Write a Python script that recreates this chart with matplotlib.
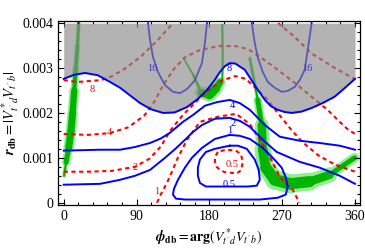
import numpy as np
import matplotlib.pyplot as plt
from matplotlib.collections import LineCollection
from matplotlib.ticker import MultipleLocator

plt.rcParams['font.family'] = ['Liberation Serif', 'DejaVu Serif']
plt.rcParams['mathtext.fontset'] = 'stix'

# phi in degrees, r in units of 1e-3

# blue solid contours
blue8_phi = [0, 13, 26.5, 42, 57.3, 69.7, 82, 94.3, 108, 122.7, 137, 152.3, 165, 177, 186, 193, 199, 205.2, 212, 223.8, 236, 248.5, 256, 264.5, 273, 281.8, 294, 306.4, 320, 334.7, 347, 360]
blue8_r = [2.76, 2.85, 2.89, 2.84, 2.69, 2.56, 2.39, 2.22, 2.08, 2.00, 2.01, 2.13, 2.30, 2.51, 2.72, 2.91, 3.04, 3.11, 3.10, 2.96, 2.62, 2.29, 2.15, 2.07, 2.02, 2.00, 2.03, 2.11, 2.22, 2.36, 2.55, 2.76]

blue16a_phi = [104.2, 106.7, 110.4, 116.5, 125.2, 135, 143.7, 152.3, 162.2, 170.8, 174.5, 177]
blue16a_r = [4.0, 3.62, 3.24, 2.91, 2.62, 2.47, 2.44, 2.53, 2.73, 3.11, 3.56, 4.0]
blue16b_phi = [232.4, 236.1, 239.8, 246, 252.2, 260.8, 269.4, 276.8, 285.5, 291.6, 297.8, 301.5, 306.4]
blue16b_r = [4.0, 3.56, 3.24, 2.91, 2.69, 2.56, 2.47, 2.49, 2.58, 2.73, 2.96, 3.40, 4.0]

blue4_phi = [0, 45, 69.7, 88, 106.7, 120, 131.5, 147.3, 160.2, 174.5, 189.3, 205.2, 217.5, 230, 248.5, 267, 291.6, 316.3, 341, 360]
blue4_r = [1.16, 1.18, 1.18, 1.24, 1.33, 1.43, 1.56, 1.80, 1.96, 2.16, 2.24, 2.29, 2.22, 2.07, 1.73, 1.47, 1.38, 1.33, 1.27, 1.18]

blue2_phi = [0, 45, 69.7, 88.2, 106.7, 125.2, 138, 149.8, 160, 170.8, 186.8, 205.2, 218, 230, 248.5, 263.3, 291.6, 316.3, 341, 360]
blue2_r = [0.40, 0.42, 0.51, 0.60, 0.73, 1.00, 1.20, 1.40, 1.58, 1.73, 1.87, 1.89, 1.82, 1.69, 1.36, 1.13, 0.91, 0.78, 0.60, 0.42]

blue1_phi = [205.2, 186.8, 170.8, 158.4, 149.8, 141.2, 136.3, 135, 138.7, 149.8, 180.6, 211.5, 242.3, 264.5, 274.4, 276.8, 274.4, 269.4, 258.3, 246, 230, 217.6, 205.2]
blue1_r = [1.51, 1.42, 1.22, 1.00, 0.78, 0.51, 0.31, 0.18, 0.09, 0.07, 0.07, 0.07, 0.07, 0.11, 0.18, 0.36, 0.56, 0.78, 1.00, 1.22, 1.42, 1.49, 1.51]

blue05_phi = [205.2, 186.8, 175.7, 168.3, 165.8, 165.8, 168.3, 175.7, 186.8, 205.2, 227.5, 238.6, 242.3, 241, 236.1, 226.3, 215.2, 205.2]
blue05_r = [1.27, 1.20, 1.13, 0.96, 0.78, 0.60, 0.44, 0.36, 0.36, 0.36, 0.36, 0.38, 0.51, 0.73, 0.96, 1.20, 1.27, 1.27]

# red dashed contours
red05_phi = [190.5, 187, 186.8, 189, 193, 199, 205.2, 213.9, 219, 221.3, 219, 212.7, 200.4, 190.5]
red05_r = [1.13, 1.02, 0.91, 0.80, 0.73, 0.68, 0.67, 0.65, 0.72, 0.90, 1.08, 1.16, 1.18, 1.13]

red1_phi = [115.3, 121, 127.6, 134, 140, 152.3, 168.3, 189.3, 213, 230, 242.3, 254.6, 267, 276, 283, 289.3, 291]
red1_r = [0.0, 0.22, 0.44, 0.70, 0.96, 1.40, 1.80, 1.91, 1.98, 1.75, 1.40, 1.02, 0.58, 0.40, 0.29, 0.07, 0.0]

red2_phi = [0, 30, 60, 88, 106, 120, 131.5, 147, 168, 180, 195, 212, 225, 239.8, 252.2, 264.5, 280, 295, 315, 335, 360]
red2_r = [0.69, 0.69, 0.71, 0.80, 0.98, 1.25, 1.60, 1.95, 2.33, 2.52, 2.72, 2.82, 2.76, 2.51, 2.29, 2.00, 1.65, 1.35, 1.05, 0.85, 0.69]

red4_phi = [0, 30, 57, 80, 100, 112, 124, 137, 150, 168, 192, 212, 228, 244.8, 264.5, 285.5, 306.4, 326, 340, 350, 360]
red4_r = [1.53, 1.51, 1.55, 1.68, 1.95, 2.25, 2.65, 3.00, 3.24, 3.40, 3.49, 3.49, 3.42, 3.22, 2.96, 2.67, 2.36, 2.07, 1.82, 1.65, 1.53]

red8a_phi = [0, 17, 46, 60, 75, 95, 115, 135]
red8a_r = [2.73, 2.69, 2.73, 2.82, 2.98, 3.25, 3.60, 4.0]
red8b_phi = [265, 285, 306, 335, 360]
red8b_r = [4.0, 3.70, 3.33, 3.00, 2.75]

# green bands: centre lines and widths (pt)
gl_phi = [0.5, 3, 6, 9, 11, 13, 15, 17, 18.5]
gl_r = [0.60, 0.90, 1.20, 1.60, 2.00, 2.50, 3.00, 3.50, 4.0]
gl_light = [3, 6, 7.5, 7.5, 7, 5, 4, 3]
gl_dark = [1.5, 3.5, 5, 5, 4.5, 3, 2.5, 2]

gr_phi = [230, 239.8, 244.8, 246, 249.7, 260.8, 279.4, 304, 328.6, 359.4]
gr_r = [3.22, 2.29, 1.73, 1.18, 0.78, 0.51, 0.42, 0.47, 0.62, 1.0]
gr_light = [2.5, 6, 10, 12, 13, 14, 13, 11, 7]
gr_dark = [1.5, 3.5, 6, 7, 8, 8.5, 8, 6, 3.5]

gc_phi = [148, 160, 170, 180, 188, 193]
gc_r = [3.22, 2.85, 2.45, 2.40, 2.55, 2.68]
gc_light = [1.5, 2.5, 9, 10, 8]
gc_dark = [1, 1.5, 5.5, 6.5, 5]
gv_phi = [196, 196.5, 196]
gv_r = [3.96, 3.3, 2.70]

blue_labels = [(109, 3.0, '16'), (301.5, 3.0, '16'), (205, 3.0, '8'), (208, 2.17, '4'),
               (209, 1.77, '2'), (205, 1.60, '1'), (205, 0.40, '0.5')]
red_labels = [(35.5, 2.53, '8'), (57, 1.56, '4'), (88, 0.78, '2'), (115, 0.24, '1'), (208, 0.86, '0.5')]

BLUE = '#0000ff'
RED = '#ff0000'


def band(ax, x, y, w, color, z):
    pts = np.column_stack([x, y])
    segs = np.stack([pts[:-1], pts[1:]], axis=1)
    lc = LineCollection(segs, linewidths=w, colors=color, capstyle='round',
                        joinstyle='round', zorder=z)
    ax.add_collection(lc)


fig = plt.figure(figsize=(3.65, 2.49), dpi=100)
ax = fig.add_axes([0.159, 0.177, 0.827, 0.739])

# green bands
for x, y, wl, wd in [(gl_phi, gl_r, gl_light, gl_dark), (gr_phi, gr_r, gr_light, gr_dark),
                     (gc_phi, gc_r, gc_light, gc_dark)]:
    band(ax, x, y, wl, '#90ee90', 1)
    band(ax, x, y, wd, '#00b400', 1.5)
ax.plot(gv_phi, gv_r, color='#00b400', lw=1.5, zorder=1.5)

dash = dict(ls=(0, (2.0, 1.7)), lw=1.5, color=RED, zorder=3)
for x, y in [(red05_phi, red05_r), (red1_phi, red1_r), (red2_phi, red2_r),
             (red4_phi, red4_r), (red8a_phi, red8a_r), (red8b_phi, red8b_r)]:
    ax.plot(x, y, **dash)

for x, y in [(blue16a_phi, blue16a_r), (blue16b_phi, blue16b_r)]:
    ax.plot(x, y, color=BLUE, lw=1.3, zorder=3)

# excluded region
ax.fill_between(blue8_phi, blue8_r, 4.0, color='#8a8a8a', alpha=0.65, lw=0, zorder=4)

for x, y in [(blue8_phi, blue8_r), (blue4_phi, blue4_r), (blue2_phi, blue2_r),
             (blue1_phi, blue1_r), (blue05_phi, blue05_r)]:
    ax.plot(x, y, color=BLUE, lw=1.4, zorder=5)

for x, y, s in blue_labels:
    c = '#3a3acc' if s == '16' else BLUE
    ax.text(x, y, s, color=c, fontsize=7.5, ha='center', va='center', zorder=6)
for x, y, s in red_labels:
    ax.text(x, y, s, color=RED, fontsize=7.5, ha='center', va='center', zorder=6)

ax.set_xlim(-7, 366)
ax.set_ylim(-0.05, 4.05)
ax.set_xticks([0, 90, 180, 270, 360])
ax.xaxis.set_minor_locator(MultipleLocator(18))
ax.set_yticks([0, 1, 2, 3, 4])
ax.set_yticklabels(['0', '0.001', '0.002', '0.003', '0.004'])
ax.yaxis.set_minor_locator(MultipleLocator(0.2))
ax.tick_params(which='both', direction='in', top=True, right=True, labelsize=10, width=0.8)
ax.tick_params(which='major', length=4)
ax.tick_params(which='minor', length=2)
for s in ax.spines.values():
    s.set_linewidth(0.9)

ax.set_xlabel(r"$\mathbfit{\phi}_{\mathbf{db}} = \mathbf{arg}(V^*_{t'\,d}V_{t'\,b})$", fontsize=10, labelpad=2)
ax.set_ylabel(r"$\mathbfit{r}_{\mathbf{db}} = |V^*_{t'\,d}V_{t'\,b}|$", fontsize=10.5, labelpad=1)

fig.savefig('out.png', dpi=100)
